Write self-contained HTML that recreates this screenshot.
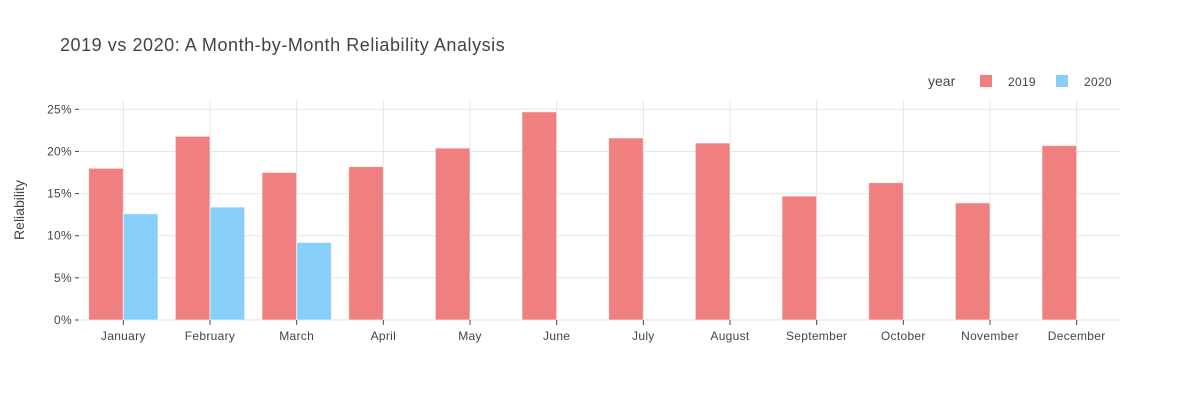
<!DOCTYPE html>
<html><head><meta charset="utf-8"><style>
body{margin:0;background:#fff;font-family:"Liberation Sans",sans-serif;}
svg text{font-family:"Liberation Sans",sans-serif;fill:#444;}
</style></head><body>
<svg id="chart" width="1200" height="400">
<text x="60" y="51" font-size="18" letter-spacing="0.55">2019 vs 2020: A Month-by-Month Reliability Analysis</text>
<g>
<text x="928" y="86" font-size="14">year</text>
<rect x="980" y="75" width="12" height="12" fill="#F08080"/>
<text x="1008" y="86" font-size="12" letter-spacing="0.3">2019</text>
<rect x="1056" y="75" width="12" height="12" fill="#87CEFA"/>
<text x="1084" y="86" font-size="12" letter-spacing="0.3">2020</text>
</g>
<text transform="translate(24,210) rotate(-90)" text-anchor="middle" font-size="14">Reliability</text>
<g id="grid"></g><g id="bars"></g><g id="axes"></g>
</svg>
<script>
const categories=["January","February","March","April","May","June","July","August","September","October","November","December"];
const values2019=[18.0,21.8,17.5,18.2,20.4,24.7,21.6,21.0,14.7,16.3,13.9,20.7];
const values2020=[12.6,13.4,9.2,null,null,null,null,null,null,null,null,null];
const yTicks=[0,5,10,15,20,25];
const X0=80,X1=1120,Y0=320,Ytop=100;
const pxPer=(320-109.3)/25;
const y=v=>Y0-v*pxPer;
const band=(X1-X0)/categories.length;
const cx=i=>X0+band*(i+0.5);
const NS="http://www.w3.org/2000/svg";
function mk(t,a,p){const e=document.createElementNS(NS,t);for(const k in a)e.setAttribute(k,a[k]);p.appendChild(e);return e;}
const grid=document.getElementById('grid'),bars=document.getElementById('bars'),axes=document.getElementById('axes');
yTicks.forEach(t=>{
 const l=mk('line',{x1:X0,x2:X1,y1:y(t),y2:y(t),stroke:t===0?'#ddd':'#e5e5e5','stroke-width':1},grid);
 
 
 const tk=mk('line',{x1:75,x2:79,y1:y(t),y2:y(t),stroke:'#444'},axes);
 
 
 const tx=mk('text',{x:72,y:y(t)+4,'text-anchor':'end','font-size':12,'letter-spacing':0.3},axes);
 tx.textContent=t+'%';
 
 
});
const bw=band*0.8/2;
categories.forEach((c,i)=>{
 const g=mk('line',{x1:cx(i),x2:cx(i),y1:Ytop,y2:Y0,stroke:'#e5e5e5'},grid);
 
 
 [[values2019,'#F08080',-1,'2019'],[values2020,'#87CEFA',0,'2020']].forEach(([arr,col,off,yr])=>{
  const v=arr[i]; if(v==null)return;
  const r=mk('rect',{x:cx(i)+off*bw,y:y(v),width:bw,height:Y0-y(v),fill:col,stroke:'#fff','stroke-opacity':0.6,'stroke-width':1},bars);
  
  
 });
 const tk=mk('line',{x1:cx(i),x2:cx(i),y1:Y0,y2:Y0+5,stroke:'#444'},axes);
 
 
 const tx=mk('text',{x:cx(i),y:340,'text-anchor':'middle','font-size':12,'letter-spacing':0.3},axes);
 tx.textContent=c;
 
 
});
</script>
</body></html>
